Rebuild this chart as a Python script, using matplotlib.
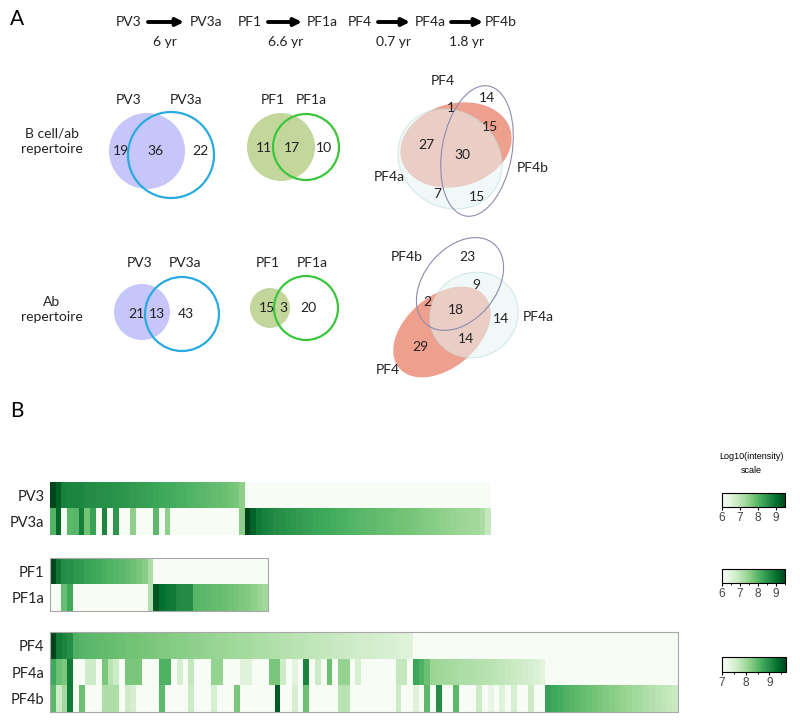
import numpy as np
import matplotlib
matplotlib.use("Agg")
import matplotlib.pyplot as plt
from matplotlib.patches import Circle, Ellipse
from matplotlib import colors, cm

plt.rcParams['font.family'] = ['Lato', 'DejaVu Sans']

# ---------------- data ----------------
timeline_labels = ["PV3", "PV3a", "PF1", "PF1a", "PF4", "PF4a", "PF4b"]
timeline_gaps = ["6 yr", "6.6 yr", "0.7 yr", "1.8 yr"]

venn_bcell_pv3 = [19, 36, 22]
venn_bcell_pf1 = [11, 17, 10]
venn_bcell_pf4 = [1, 14, 15, 27, 30, 7, 15]
venn_ab_pv3 = [21, 13, 43]
venn_ab_pf1 = [15, 3, 20]
venn_ab_pf4 = [23, 9, 2, 18, 14, 14, 29]

# heatmap values, log10(intensity); columns not listed are absent
pv3_vals = [9.45, 9.2, 8.75, 8.72, 8.7, 8.68, 8.62, 8.6, 8.58, 8.55, 8.53, 8.5,
            8.48, 8.44, 8.4, 8.37, 8.34, 8.3, 8.27, 8.22, 8.18, 8.15, 8.12, 8.08,
            8.05, 8.0, 7.97, 7.94, 7.9, 7.86, 7.82, 7.75, 7.7, 7.5]
pv3a_shared_idx = [0, 1, 3, 4, 5, 6, 7, 9, 11, 14, 18, 20, 33]
pv3a_shared_val = [8.05, 9.1, 7.95, 8.0, 8.8, 7.75, 8.3, 8.7, 8.45, 7.5, 7.95, 7.5, 7.5]
pv3a_only = [9.5, 9.15, 8.85, 8.75, 8.68, 8.6, 8.55, 8.5, 8.45, 8.4, 8.36, 8.32,
             8.28, 8.24, 8.2, 8.16, 8.12, 8.08, 8.04, 8.0, 7.97, 7.94, 7.91, 7.88,
             7.85, 7.82, 7.79, 7.76, 7.73, 7.7, 7.66, 7.62, 7.58, 7.54, 7.5, 7.46,
             7.42, 7.38, 7.35, 7.32, 7.3, 7.2, 6.9]

pf1_vals = [9.45, 8.9, 8.6, 8.55, 8.45, 8.4, 8.3, 8.25, 8.2, 8.12, 8.05, 8.0,
            7.95, 7.88, 7.8, 7.7, 7.55, 7.15]
pf1a_shared_idx = [2, 3, 17]
pf1a_shared_val = [7.85, 8.2, 7.1]
pf1a_only = [9.3, 9.0, 8.9, 8.85, 8.65, 8.62, 8.6, 8.0, 7.97, 7.93, 7.9, 7.86,
             7.82, 7.78, 7.72, 7.66, 7.6, 7.5, 7.4, 7.3]

pf4_vals = [9.7, 9.2, 9.1, 9.0, 8.6, 8.55, 8.52, 8.5, 8.48, 8.46, 8.44, 8.42,
            8.4, 8.38, 8.36, 8.34, 8.32, 8.3, 8.28, 8.26, 8.24, 8.22, 8.2, 8.18,
            8.16, 8.14, 8.12, 8.1, 8.08, 8.06, 8.04, 8.02, 8.0, 7.98, 7.96, 7.94,
            7.92, 7.9, 7.88, 7.86, 7.84, 7.82, 7.8, 7.78, 7.76, 7.74, 7.72, 7.7,
            7.68, 7.66, 7.64, 7.62, 7.6, 7.58, 7.56, 7.54, 7.52, 7.5, 7.48, 7.46,
            7.44, 7.42, 7.38]
pf4a_shared_idx = [0, 1, 2, 3, 6, 7, 9, 10, 11, 13, 14, 15, 19, 20, 22, 24, 28, 29,
                   33, 34, 38, 39, 40, 42, 44, 46, 48, 50, 51, 53, 60, 61]
pf4a_shared_val = [8.7, 8.4, 8.3, 9.2, 7.6, 7.6, 8.3, 7.8, 7.6, 8.3, 8.3, 8.3,
                   8.6, 8.6, 7.5, 7.7, 8.1, 8.1, 7.4, 7.4, 8.3, 8.3, 7.6, 7.35,
                   9.1, 7.6, 8.4, 8.1, 8.1, 7.5, 7.7, 7.7]
pf4a_only = [8.75, 8.6, 8.4, 8.05, 8.02, 8.0, 7.98, 7.95, 7.92, 7.9, 7.88, 7.85,
             7.82, 7.8, 7.76, 7.72, 7.68, 7.64, 7.6, 7.55, 7.5, 7.45, 7.38]
pf4b_shared_idx = [0, 1, 2, 3, 5, 9, 10, 11, 13, 14, 19, 24, 28, 32, 39, 42, 44,
                   50, 51, 60, 63, 65, 67, 70, 74, 76, 78, 80, 83]
pf4b_shared_val = [8.5, 7.6, 8.0, 9.2, 8.4, 7.9, 7.9, 7.9, 7.6, 7.5, 8.5, 7.6,
                   7.5, 8.3, 9.5, 7.5, 8.4, 7.8, 7.8, 7.6, 7.4, 8.5, 9.0, 8.5,
                   7.6, 7.3, 7.4, 7.5, 7.6]
pf4b_only = [8.8, 8.72, 8.66, 8.6, 8.55, 8.5, 8.45, 8.4, 8.35, 8.3, 8.25, 8.2,
             8.15, 8.1, 8.05, 8.0, 7.95, 7.9, 7.85, 7.8, 7.75, 7.7, 7.65]


def make_row(n, start=0, run=(), idx=(), val=()):
    row = np.full(n, np.nan)
    row[start:start + len(run)] = run
    row[list(idx)] = val
    return row


n_pv = len(pv3_vals) + len(pv3a_only)
pv_mat = np.vstack([make_row(n_pv, 0, pv3_vals),
                    make_row(n_pv, len(pv3_vals), pv3a_only, pv3a_shared_idx, pv3a_shared_val)])
n_pf1 = len(pf1_vals) + len(pf1a_only)
pf1_mat = np.vstack([make_row(n_pf1, 0, pf1_vals),
                     make_row(n_pf1, len(pf1_vals), pf1a_only, pf1a_shared_idx, pf1a_shared_val)])
n_pf4 = len(pf4_vals) + len(pf4a_only) + len(pf4b_only)
pf4_mat = np.vstack([make_row(n_pf4, 0, pf4_vals),
                     make_row(n_pf4, len(pf4_vals), pf4a_only, pf4a_shared_idx, pf4a_shared_val),
                     make_row(n_pf4, len(pf4_vals) + len(pf4a_only), pf4b_only,
                              pf4b_shared_idx, pf4b_shared_val)])

# ---------------- figure ----------------
W, H = 800, 725
fig = plt.figure(figsize=(8, 7.25), dpi=100)
ax = fig.add_axes([0, 0, 1, 1])
ax.set_xlim(0, W)
ax.set_ylim(H, 0)
ax.axis("off")

txt = dict(ha="center", va="center", fontsize=10, color="#222222")
ax.text(17, 19, "A", fontsize=15, ha="center", va="center")
ax.text(17, 411, "B", fontsize=15, ha="center", va="center")

# timeline
name_x = [129, 206, 250, 322, 360, 430, 501]
for lab, x in zip(timeline_labels, name_x):
    ax.text(x, 22, lab, **txt)
arrows = [(148, 184), (268, 302), (378, 410), (451, 483)]
gap_x = [165, 286, 394, 467]
for (x0, x1), g, gx in zip(arrows, timeline_gaps, gap_x):
    ax.annotate("", xy=(x1, 22), xytext=(x0, 22),
                arrowprops=dict(arrowstyle="-|>", lw=2.8, color="black",
                                mutation_scale=11, shrinkA=0, shrinkB=0))
    ax.text(gx, 42, g, **txt)

ax.text(52, 141, "B cell/ab\nrepertoire", linespacing=1.3, **txt)
ax.text(52, 309, "Ab\nrepertoire", linespacing=1.3, **txt)

lav, blue, olive, green = "#c6c6fa", "#29aae1", "#c3d69b", "#3cc63c"
salmon, teal, teal_edge, lilac = "#ef9f8e", "#e6f4f4", "#b5d9d9", "#8c8cb0"

# row 1: B cell / ab repertoire
ax.add_patch(Circle((147, 151), 38, fc=lav, ec="none"))
ax.add_patch(Circle((171, 155), 43, fc="none", ec=blue, lw=1.6))
ax.text(129, 100, "PV3", **txt)
ax.text(186, 100, "PV3a", **txt)
for v, (x, y) in zip(venn_bcell_pv3, [(121, 151), (155, 151), (200, 151)]):
    ax.text(x, y, str(v), **txt)

ax.add_patch(Circle((281, 147), 34, fc=olive, ec="none"))
ax.add_patch(Circle((306, 147), 33, fc="none", ec=green, lw=1.6))
ax.text(273, 100, "PF1", **txt)
ax.text(311, 100, "PF1a", **txt)
for v, (x, y) in zip(venn_bcell_pf1, [(264, 148), (292, 148), (324, 148)]):
    ax.text(x, y, str(v), **txt)

ax.add_patch(Ellipse((456, 145), 113, 83, angle=-15, fc=salmon, ec="none"))
ax.add_patch(Ellipse((450, 159), 108, 96, angle=35, fc=teal, ec=teal_edge, lw=0.8, alpha=0.55))
ax.add_patch(Ellipse((477, 151), 132, 70, angle=-80, fc="none", ec=lilac, lw=0.8))
ax.text(443, 81, "PF4", **txt)
ax.text(389, 177, "PF4a", **txt)
ax.text(533, 168, "PF4b", **txt)
for v, (x, y) in zip(venn_bcell_pf4, [(451, 108), (487, 98), (490, 127), (426, 145),
                                      (462, 155), (437, 194), (477, 197)]):
    ax.text(x, y, str(v), **txt)

# row 2: Ab repertoire
ax.add_patch(Circle((142, 312), 28, fc=lav, ec="none"))
ax.add_patch(Circle((182, 314), 37, fc="none", ec=blue, lw=1.6))
ax.text(140, 263, "PV3", **txt)
ax.text(185, 263, "PV3a", **txt)
for v, (x, y) in zip(venn_ab_pv3, [(136, 314), (157, 314), (186, 314)]):
    ax.text(x, y, str(v), **txt)

ax.add_patch(Circle((270, 308), 20, fc=olive, ec="none"))
ax.add_patch(Circle((306, 308), 32, fc="none", ec=green, lw=1.6))
ax.text(268, 263, "PF1", **txt)
ax.text(312, 263, "PF1a", **txt)
for v, (x, y) in zip(venn_ab_pf1, [(267, 308), (283, 308), (308, 308)]):
    ax.text(x, y, str(v), **txt)

ax.add_patch(Ellipse((442, 332), 112, 72, angle=-40, fc=salmon, ec="none"))
ax.add_patch(Ellipse((474, 315), 90, 84, angle=-30, fc=teal, ec=teal_edge, lw=0.8, alpha=0.55))
ax.add_patch(Ellipse((460, 284), 105, 72, angle=-50, fc="none", ec=lilac, lw=0.8))
ax.text(407, 257, "PF4b", **txt)
ax.text(538, 317, "PF4a", **txt)
ax.text(388, 370, "PF4", **txt)
for v, (x, y) in zip(venn_ab_pf4, [(467, 257), (476, 285), (427, 302), (456, 310),
                                   (501, 319), (466, 339), (420, 347)]):
    ax.text(x, y, str(v), **txt)

# ---------------- heatmaps ----------------
cmap = plt.get_cmap("Greens").with_extremes(bad="#f7fcf5")


def fig_rect(x0, y0, x1, y1):
    return [x0 / W, 1 - y1 / H, (x1 - x0) / W, (y1 - y0) / H]


def heat(rect, mat, labels, vmin, vmax, frame):
    hax = fig.add_axes(fig_rect(*rect))
    hax.imshow(np.ma.masked_invalid(mat), cmap=cmap, vmin=vmin, vmax=vmax,
               aspect="auto", interpolation="nearest")
    hax.set_xticks([])
    hax.set_yticks(range(len(labels)))
    hax.set_yticklabels(labels, fontsize=10.5, color="#222222")
    hax.tick_params(axis="y", length=0, pad=4)
    for s in hax.spines.values():
        s.set_visible(frame)
        s.set_color("#a8a8a8")
        s.set_linewidth(0.8)
    return hax


heat((50, 482, 490, 535), pv_mat, ["PV3", "PV3a"], 6, 9.5, False)
heat((50, 558, 268, 611), pf1_mat, ["PF1", "PF1a"], 6, 9.5, True)
heat((50, 632, 678, 712), pf4_mat, ["PF4", "PF4a", "PF4b"], 7, 9.7, True)

# colour scales
ax.text(751, 456, "Log10(intensity)", ha="center", va="center", fontsize=6.5,
        family=["Liberation Sans", "DejaVu Sans"])
ax.text(751, 470, "scale", ha="center", va="center", fontsize=6.5,
        family=["Liberation Sans", "DejaVu Sans"])


def cbar(rect, vmin, vmax, ticks, minor):
    cax = fig.add_axes(fig_rect(*rect))
    sm = cm.ScalarMappable(norm=colors.Normalize(vmin, vmax), cmap=plt.get_cmap("Greens"))
    cb = fig.colorbar(sm, cax=cax, orientation="horizontal", ticks=ticks)
    cb.outline.set_linewidth(0.8)
    cax.tick_params(labelsize=8.5, length=2.5, width=0.8, pad=1, labelcolor="#444444")
    for t in cax.get_xticklabels():
        t.set_family(["Liberation Sans", "DejaVu Sans"])
    if minor:
        cax.set_xticks(minor, minor=True)
        cax.tick_params(which="minor", length=1.5)
    return cb


cbar((722, 493, 785, 507), 6, 9.5, [6, 7, 8, 9], None)
cbar((722, 569, 785, 583), 6, 9.5, [6, 7, 8, 9], [6.5, 7.5, 8.5, 9.5])
cbar((722, 657, 786, 672), 7, 9.7, [7, 8, 9], [7.5, 8.5, 9.5])

fig.savefig("out.png", dpi=100)
